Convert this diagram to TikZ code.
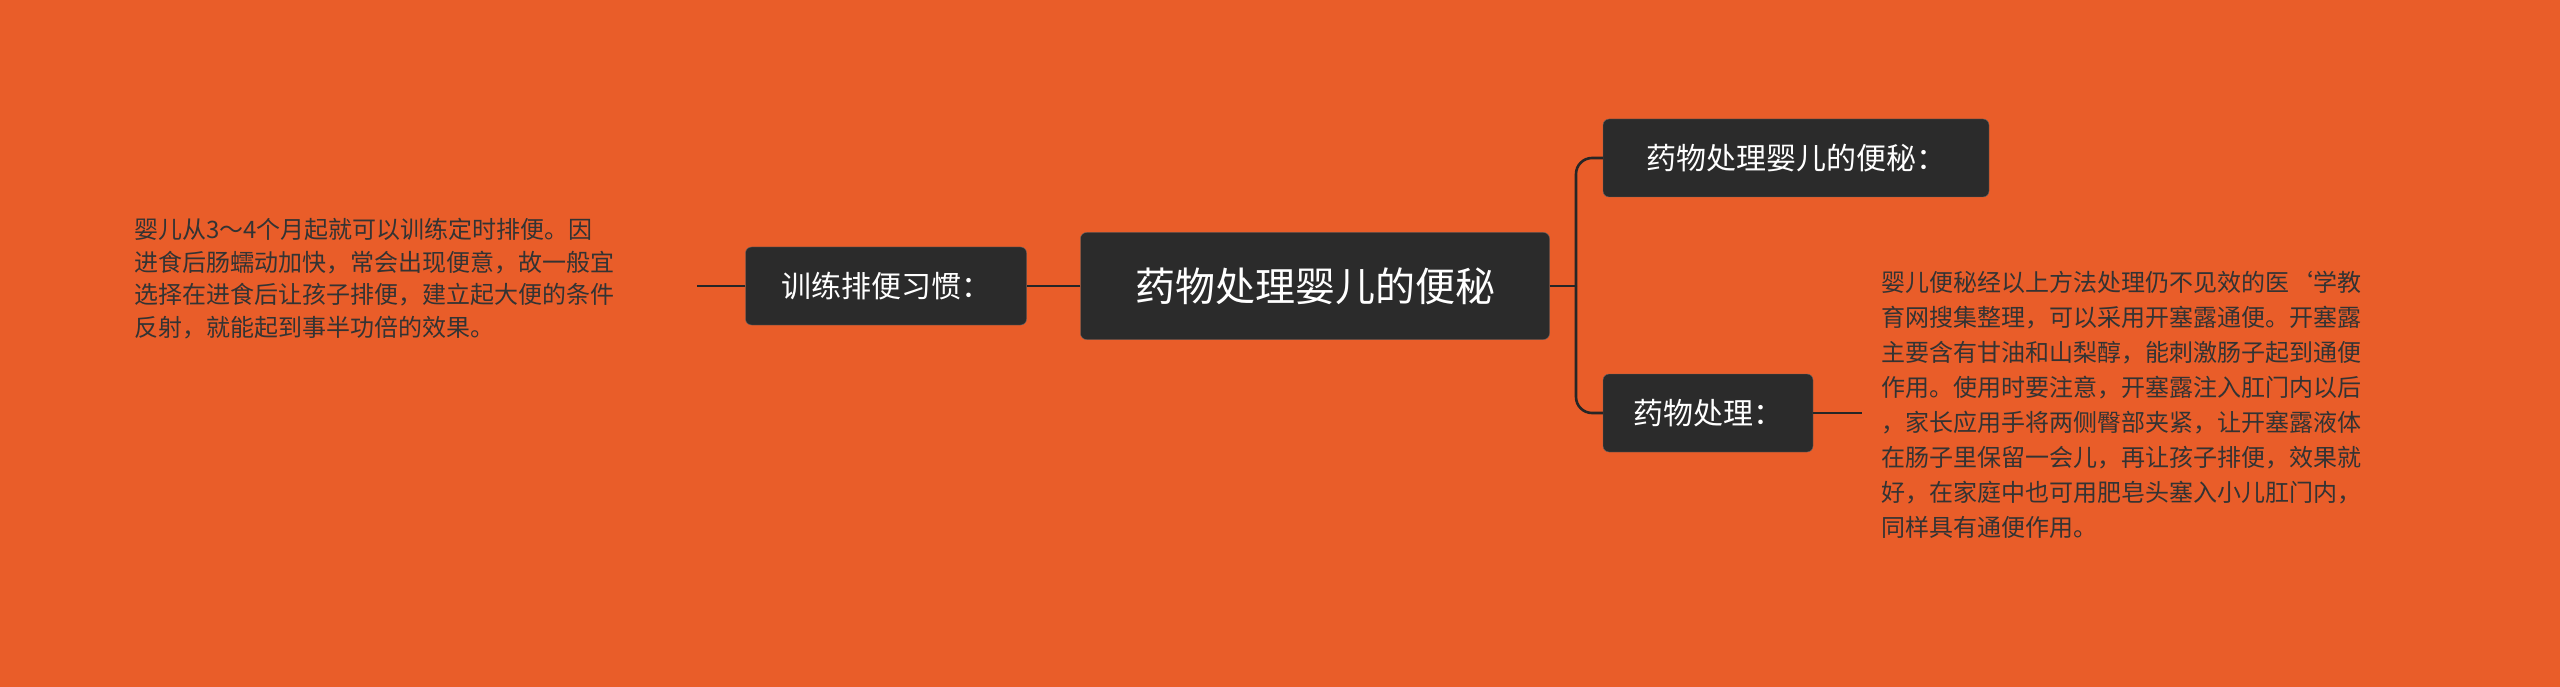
\documentclass[tikz,border=0pt]{standalone}
\usepackage{fontspec}
\setmainfont{Noto Sans CJK SC}
\begin{document}
\begin{tikzpicture}[x=1pt,y=-1pt,
  box/.style={fill=black!83,draw=black!60,rounded corners=6pt,text=white,inner sep=0pt,minimum height=78pt},
  para/.style={text=black!80,align=left,inner sep=0pt,font=\fontsize{24}{32.5}\selectfont},
  conn/.style={draw=black!85,line width=2.6pt}]
\fill[fill={rgb,255:red,233;green,93;blue,41}] (0,0) rectangle (2560,687);
\useasboundingbox (0,0) rectangle (2560,687);
\node[box,minimum width=469pt,minimum height=107pt,font=\fontsize{40}{48}\selectfont] (c) at (1315,286) {药物处理婴儿的便秘};
\node[box,minimum width=281pt,font=\fontsize{30}{36}\selectfont] (l) at (886,286) {训练排便习惯：};
\node[box,minimum width=386pt,font=\fontsize{30}{36}\selectfont] (t) at (1796,158) {药物处理婴儿的便秘：};
\node[box,minimum width=210pt,font=\fontsize{30}{36}\selectfont] (b) at (1708,413) {药物处理：};
\node[para,anchor=north west] (lt) at (134,218) {婴儿从3～4个月起就可以训练定时排便。因\\进食后肠蠕动加快，常会出现便意，故一般宜\\选择在进食后让孩子排便，建立起大便的条件\\反射，就能起到事半功倍的效果。};
\node[para,anchor=north west,font=\fontsize{24}{35}\selectfont] (rt) at (1881,271) {婴儿便秘经以上方法处理仍不见效的医`学教\\育网搜集整理，可以采用开塞露通便。开塞露\\主要含有甘油和山梨醇，能刺激肠子起到通便\\作用。使用时要注意，开塞露注入肛门内以后\\，家长应用手将两侧臀部夹紧，让开塞露液体\\在肠子里保留一会儿，再让孩子排便，效果就\\好，在家庭中也可用肥皂头塞入小儿肛门内，\\同样具有通便作用。};
\coordinate (sp) at (1576,286);
\draw[conn] (c.west) -- (l.east);
\draw[conn] (l.west) -- (697,286);
\draw[conn] (c.east) -- (sp);
\draw[conn,rounded corners=16pt] (sp) -- (1576,158) -- (t.west);
\draw[conn,rounded corners=16pt] (sp) -- (1576,413) -- (b.west);
\draw[conn] (b.east) -- (1862,413);
\end{tikzpicture}
\end{document}
